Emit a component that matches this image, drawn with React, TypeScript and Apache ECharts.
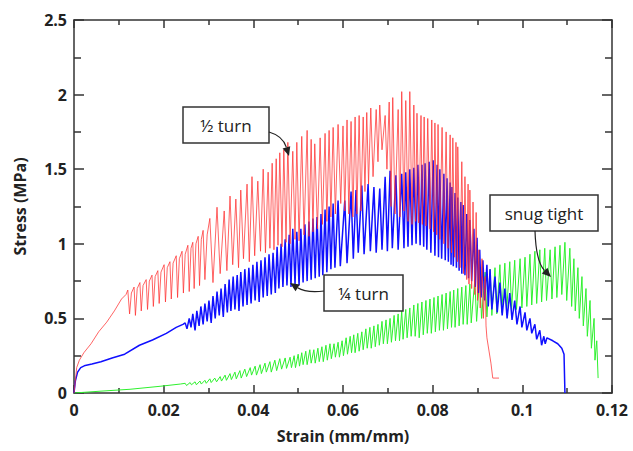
import React, { useEffect, useRef } from "react";
import * as echarts from "echarts";

// Strain (mm/mm), Stress (MPa)
const halfTurn: [number, number][] = [
  [0, 0], [0.0003, 0.08], [0.0006, 0.17], [0.0012, 0.22], [0.0022, 0.27], [0.0038, 0.33], [0.0055, 0.41], [0.0073, 0.475], [0.009, 0.55], [0.0106, 0.63], [0.0116, 0.66],
  [0.0120, 0.69], [0.0124, 0.53], [0.0128, 0.67], [0.0134, 0.71], [0.0137, 0.52], [0.0141, 0.70], [0.0147, 0.74], [0.0150, 0.55], [0.0154, 0.72],
  [0.0161, 0.76], [0.0164, 0.56], [0.0168, 0.75], [0.0174, 0.79], [0.0177, 0.58], [0.0181, 0.78], [0.0187, 0.82], [0.0190, 0.60], [0.0194, 0.81],
  [0.0201, 0.86], [0.0204, 0.61], [0.0208, 0.84], [0.0214, 0.88], [0.0217, 0.63], [0.0221, 0.87], [0.0228, 0.92], [0.0231, 0.64], [0.0235, 0.90],
  [0.0241, 0.95], [0.0244, 0.67], [0.0248, 0.93], [0.0254, 0.99], [0.0257, 0.68], [0.0261, 0.97], [0.0265, 1.01], [0.0268, 0.70], [0.0272, 1.00],
  [0.0277, 1.05], [0.0280, 0.72], [0.0284, 1.03], [0.0288, 1.09], [0.0292, 0.76], [0.0297, 1.06],
  [0.0303, 1.17], [0.0310, 0.74], [0.0319, 1.245], [0.0326, 0.80],
  [0.0335, 1.22], [0.0341, 0.82], [0.0348, 1.32], [0.0354, 0.86], [0.0361, 1.30], [0.0367, 0.84], [0.0372, 1.36], [0.0378, 0.90],
  [0.0386, 1.40], [0.0391, 0.88], [0.0397, 1.45], [0.0403, 0.92], [0.0410, 1.42], [0.0416, 0.95], [0.0422, 1.50], [0.0427, 0.94],
  [0.0433, 1.48], [0.0437, 0.97], [0.0442, 1.54], [0.0446, 0.96], [0.0451, 1.57], [0.0455, 0.99], [0.0459, 1.61], [0.0464, 0.98],
  [0.0468, 1.63], [0.0473, 1.01], [0.0477, 1.68], [0.0482, 1.00], [0.0488, 1.62], [0.0493, 1.03], [0.0497, 1.68], [0.0502, 1.02],
  [0.0508, 1.72], [0.0513, 1.06], [0.0520, 1.76], [0.0524, 1.05], [0.0529, 1.70], [0.0533, 1.08], [0.0537, 1.67], [0.0543, 1.10],
  [0.0549, 1.71], [0.0554, 1.13], [0.0560, 1.74], [0.0564, 1.15], [0.0569, 1.76], [0.0573, 1.18], [0.0578, 1.78], [0.0583, 1.20],
  [0.0589, 1.80], [0.0595, 1.27], [0.0600, 1.79], [0.0604, 1.22], [0.0609, 1.83], [0.0613, 1.20], [0.0618, 1.82], [0.0622, 1.18],
  [0.0627, 1.85], [0.0631, 1.20], [0.0636, 1.86], [0.0640, 1.22], [0.0645, 1.85], [0.0649, 1.35], [0.0653, 1.88], [0.0657, 1.40],
  [0.0662, 1.91], [0.0667, 1.45], [0.0674, 1.90], [0.0678, 1.55], [0.0682, 1.93], [0.0687, 1.63], [0.0694, 1.86], [0.0698, 1.50],
  [0.0703, 1.95], [0.0707, 1.25], [0.0711, 1.98], [0.0716, 1.20], [0.0723, 1.90], [0.0727, 1.18], [0.0731, 2.02], [0.0736, 1.22],
  [0.0740, 1.96], [0.0745, 1.15], [0.0749, 2.02], [0.0754, 1.13], [0.0758, 1.93], [0.0762, 1.15], [0.0765, 1.875], [0.0769, 1.14],
  [0.0774, 1.86], [0.0777, 1.13], [0.0781, 1.85], [0.0785, 1.12], [0.0789, 1.84], [0.0794, 1.10], [0.0798, 1.83], [0.0802, 1.08],
  [0.0805, 1.81], [0.0809, 1.06], [0.0812, 1.80], [0.0816, 1.03], [0.0821, 1.78], [0.0825, 1.00], [0.0830, 1.75], [0.0834, 0.97],
  [0.0839, 1.73], [0.0842, 0.94], [0.0845, 1.71], [0.0849, 0.91], [0.0852, 1.68], [0.0855, 0.88], [0.0856, 1.65], [0.0861, 0.84],
  [0.0865, 1.55], [0.0869, 0.80], [0.0872, 1.45], [0.0876, 0.76], [0.0879, 1.40], [0.0881, 0.73], [0.0883, 1.36], [0.0887, 0.70],
  [0.0890, 1.28], [0.0894, 0.66], [0.0897, 1.21], [0.0900, 0.62], [0.0903, 0.96], [0.0906, 0.57], [0.0910, 0.90], [0.0913, 0.50],
  [0.0917, 0.78], [0.0919, 0.45], [0.0921, 0.37], [0.0930, 0.20], [0.0934, 0.10], [0.0948, 0.10],
];

const quarterTurn: [number, number][] = [
  [0, 0], [0.0003, 0.08], [0.0008, 0.14], [0.0015, 0.17], [0.0025, 0.185], [0.004, 0.195], [0.006, 0.21], [0.0085, 0.235], [0.0113, 0.26],
  [0.0146, 0.32], [0.0175, 0.355], [0.0206, 0.40], [0.0228, 0.44], [0.0243, 0.46],
  [0.0248, 0.47], [0.0252, 0.43], [0.0257, 0.50], [0.0261, 0.44], [0.0265, 0.53], [0.0270, 0.42], [0.0274, 0.55], [0.0279, 0.45],
  [0.0283, 0.58], [0.0288, 0.46], [0.0292, 0.60], [0.0297, 0.48], [0.0301, 0.62], [0.0306, 0.47], [0.0310, 0.65], [0.0315, 0.50],
  [0.0319, 0.68], [0.0324, 0.52], [0.0328, 0.70], [0.0333, 0.51], [0.0337, 0.73], [0.0342, 0.54], [0.0346, 0.76], [0.0350, 0.55],
  [0.0355, 0.78], [0.0359, 0.56], [0.0364, 0.79], [0.0368, 0.55], [0.0372, 0.81], [0.0377, 0.58], [0.0381, 0.83], [0.0386, 0.59],
  [0.0390, 0.84], [0.0395, 0.60], [0.0399, 0.86], [0.0404, 0.62], [0.0408, 0.88], [0.0413, 0.61], [0.0417, 0.89], [0.0422, 0.64],
  [0.0426, 0.91], [0.0431, 0.65], [0.0435, 0.93], [0.0440, 0.66], [0.0444, 0.94], [0.0449, 0.67], [0.0453, 0.98], [0.0457, 0.70],
  [0.0462, 1.00], [0.0466, 0.71], [0.0471, 1.03], [0.0475, 0.72], [0.0480, 1.06], [0.0484, 0.71], [0.0488, 1.10], [0.0493, 0.73],
  [0.0497, 1.08], [0.0502, 0.72], [0.0506, 1.10], [0.0511, 0.74], [0.0515, 1.13], [0.0520, 0.75], [0.0524, 1.15], [0.0529, 0.76],
  [0.0533, 1.17], [0.0538, 0.77], [0.0542, 1.18], [0.0547, 0.78], [0.0551, 1.20], [0.0555, 0.79], [0.0560, 1.23], [0.0564, 0.81],
  [0.0569, 1.25], [0.0573, 0.83], [0.0578, 1.27], [0.0582, 0.84], [0.0589, 1.29], [0.0594, 0.85], [0.0604, 1.29], [0.0609, 0.87],
  [0.0618, 1.35], [0.0623, 0.90], [0.0629, 1.36], [0.0634, 0.94], [0.0642, 1.39], [0.0647, 0.93], [0.0656, 1.40], [0.0661, 0.95],
  [0.0669, 1.38], [0.0674, 0.94], [0.0682, 1.37], [0.0687, 0.96], [0.0694, 1.45], [0.0699, 0.95], [0.0705, 1.49], [0.0710, 0.97],
  [0.0718, 1.46], [0.0723, 0.96], [0.0731, 1.47], [0.0736, 0.97], [0.0740, 1.48], [0.0745, 0.98], [0.0749, 1.50], [0.0754, 0.99],
  [0.0758, 1.51], [0.0763, 1.00], [0.0767, 1.53], [0.0772, 0.99], [0.0776, 1.53], [0.0780, 0.98], [0.0783, 1.54], [0.0787, 0.96],
  [0.0792, 1.55], [0.0796, 0.94], [0.0801, 1.56], [0.0805, 0.92], [0.0810, 1.53], [0.0813, 0.91], [0.0816, 1.50], [0.0820, 0.90],
  [0.0825, 1.47], [0.0828, 0.89], [0.0832, 1.44], [0.0835, 0.88], [0.0839, 1.41], [0.0841, 0.86], [0.0843, 1.38], [0.0846, 0.85],
  [0.0850, 1.34], [0.0853, 0.84], [0.0856, 1.31], [0.0859, 0.82], [0.0863, 1.28], [0.0865, 0.80], [0.0868, 1.26], [0.0872, 0.79],
  [0.0876, 1.20], [0.0880, 0.77], [0.0883, 1.16], [0.0887, 0.75], [0.0892, 1.10], [0.0895, 0.71], [0.0899, 1.04], [0.0902, 0.67],
  [0.0905, 0.96], [0.0908, 0.64], [0.0912, 0.89], [0.0916, 0.62], [0.0921, 0.86], [0.0924, 0.58], [0.0928, 0.83], [0.0932, 0.56],
  [0.0939, 0.78], [0.0944, 0.54], [0.0950, 0.74], [0.0955, 0.52], [0.0961, 0.70], [0.0966, 0.50], [0.0972, 0.67], [0.0977, 0.49],
  [0.0983, 0.62], [0.0988, 0.46], [0.0995, 0.58], [0.0999, 0.44], [0.1006, 0.54], [0.1010, 0.42], [0.1017, 0.50], [0.1021, 0.40],
  [0.1028, 0.46], [0.1032, 0.36], [0.1039, 0.42], [0.1043, 0.32], [0.1048, 0.38], [0.1051, 0.33],
  [0.1055, 0.37], [0.1068, 0.35], [0.1079, 0.33], [0.1088, 0.30], [0.1093, 0.26], [0.1095, 0.0],
];

const snugTight: [number, number][] = [
  [0, 0], [0.0058, 0.012], [0.0125, 0.025], [0.0192, 0.045], [0.0237, 0.06],
  [0.0248, 0.065], [0.0251, 0.05], [0.0259, 0.07], [0.0262, 0.055], [0.0270, 0.075], [0.0273, 0.055], [0.0281, 0.08], [0.0284, 0.06],
  [0.0292, 0.085], [0.0295, 0.065], [0.0303, 0.095], [0.0306, 0.07], [0.0314, 0.10], [0.0318, 0.075], [0.0326, 0.11], [0.0329, 0.08],
  [0.0337, 0.12], [0.0340, 0.085], [0.0348, 0.13], [0.0351, 0.09], [0.0359, 0.14], [0.0362, 0.095], [0.0370, 0.15], [0.0373, 0.10],
  [0.0381, 0.16], [0.0385, 0.11], [0.0393, 0.17], [0.0396, 0.12], [0.0404, 0.18], [0.0407, 0.12], [0.0415, 0.19], [0.0418, 0.13],
  [0.0426, 0.20], [0.0429, 0.14], [0.0437, 0.21], [0.0440, 0.14], [0.0448, 0.22], [0.0452, 0.15], [0.0459, 0.23], [0.0463, 0.16],
  [0.0471, 0.235], [0.0474, 0.165], [0.0482, 0.24], [0.0485, 0.17], [0.0491, 0.25], [0.0494, 0.17], [0.0500, 0.26], [0.0503, 0.18],
  [0.0508, 0.27], [0.0511, 0.19], [0.0517, 0.28], [0.0520, 0.19], [0.0526, 0.29], [0.0529, 0.20], [0.0535, 0.29], [0.0538, 0.20],
  [0.0544, 0.30], [0.0547, 0.21], [0.0553, 0.31], [0.0556, 0.21], [0.0562, 0.32], [0.0565, 0.22], [0.0571, 0.33], [0.0574, 0.23],
  [0.0580, 0.33], [0.0583, 0.24], [0.0589, 0.34], [0.0592, 0.24], [0.0598, 0.35], [0.0601, 0.25], [0.0607, 0.37], [0.0610, 0.26],
  [0.0616, 0.38], [0.0619, 0.27], [0.0624, 0.39], [0.0627, 0.27], [0.0633, 0.40], [0.0636, 0.28], [0.0642, 0.41], [0.0645, 0.29],
  [0.0651, 0.43], [0.0654, 0.30], [0.0660, 0.44], [0.0663, 0.30], [0.0669, 0.45], [0.0672, 0.31], [0.0678, 0.46], [0.0681, 0.32],
  [0.0687, 0.48], [0.0690, 0.33], [0.0696, 0.49], [0.0699, 0.33], [0.0705, 0.50], [0.0708, 0.34], [0.0714, 0.52], [0.0717, 0.35],
  [0.0723, 0.53], [0.0726, 0.35], [0.0731, 0.55], [0.0734, 0.36], [0.0740, 0.56], [0.0743, 0.37], [0.0749, 0.57], [0.0752, 0.38],
  [0.0758, 0.59], [0.0761, 0.38], [0.0767, 0.60], [0.0770, 0.37], [0.0776, 0.61], [0.0779, 0.39], [0.0785, 0.62], [0.0788, 0.40],
  [0.0794, 0.63], [0.0797, 0.40], [0.0803, 0.64], [0.0806, 0.41], [0.0812, 0.65], [0.0815, 0.42], [0.0821, 0.66], [0.0824, 0.42],
  [0.0830, 0.67], [0.0833, 0.43], [0.0839, 0.68], [0.0842, 0.44], [0.0847, 0.69], [0.0850, 0.44], [0.0856, 0.70], [0.0859, 0.45],
  [0.0865, 0.71], [0.0868, 0.46], [0.0874, 0.72], [0.0877, 0.46], [0.0883, 0.73], [0.0886, 0.47], [0.0894, 0.76], [0.0898, 0.48],
  [0.0905, 0.79], [0.0909, 0.50], [0.0917, 0.81], [0.0921, 0.51], [0.0928, 0.83], [0.0932, 0.52], [0.0939, 0.84], [0.0943, 0.53],
  [0.0950, 0.86], [0.0954, 0.54], [0.0961, 0.87], [0.0965, 0.55], [0.0972, 0.88], [0.0976, 0.56], [0.0983, 0.89], [0.0987, 0.56],
  [0.0995, 0.90], [0.0999, 0.57], [0.1006, 0.91], [0.1010, 0.58], [0.1017, 0.93], [0.1021, 0.59], [0.1028, 0.95], [0.1032, 0.60],
  [0.1039, 0.96], [0.1043, 0.61], [0.1050, 0.97], [0.1054, 0.62], [0.1062, 0.96], [0.1066, 0.63], [0.1073, 0.98], [0.1077, 0.64],
  [0.1084, 0.99], [0.1088, 0.66], [0.1095, 1.01], [0.1099, 0.62], [0.1106, 0.97], [0.1110, 0.58], [0.1115, 0.90], [0.1118, 0.55],
  [0.1124, 0.84], [0.1127, 0.50], [0.1133, 0.78], [0.1136, 0.45], [0.1142, 0.70], [0.1145, 0.38], [0.1151, 0.62], [0.1154, 0.30],
  [0.1160, 0.50], [0.1162, 0.22], [0.1166, 0.35], [0.1169, 0.10],
];

const xTickValues = [0, 0.02, 0.04, 0.06, 0.08, 0.1, 0.12];
const yTickValues = [0, 0.5, 1, 1.5, 2, 2.5];
const xName = "Strain (mm/mm)";
const yName = "Stress (MPa)";
const annotations = ["½ turn", "¼ turn", "snug tight"];

const FONT = "Open Sans";
const AXIS_COLOR = "#333";

function fmt(v: number) {
  return String(Math.round(v * 1000) / 1000);
}

function arrow(x1: number, y1: number, cx: number, cy: number, x2: number, y2: number) {
  const ang = Math.atan2(y2 - cy, x2 - cx);
  const L = 9, W = 4;
  const bx = x2 - L * Math.cos(ang), by = y2 - L * Math.sin(ang);
  const px = -Math.sin(ang) * W, py = Math.cos(ang) * W;
  return [
    {
      type: "bezierCurve",
      shape: { x1, y1, cpx1: cx, cpy1: cy, x2: bx, y2: by },
      style: { stroke: "#222", lineWidth: 1.2, fill: null },
      z: 100,
    },
    {
      type: "polygon",
      shape: { points: [[x2, y2], [bx + px, by + py], [bx - px, by - py]] },
      style: { fill: "#222" },
      z: 100,
    },
  ];
}

function box(x: number, y: number, w: number, h: number, text: string) {
  return [
    {
      type: "rect",
      shape: { x, y, width: w, height: h },
      style: { fill: "#fff", stroke: "#333", lineWidth: 1.5 },
      z: 100,
    },
    {
      type: "text",
      x: x + w / 2,
      y: y + h / 2,
      style: { text, fill: "#222", font: `17px '${FONT}'`, align: "center", verticalAlign: "middle" },
      z: 101,
    },
  ];
}

export default function App() {
  const ref = useRef<HTMLDivElement>(null);
  useEffect(() => {
    document.body.style.margin = "0";
    const chart = echarts.init(ref.current!, null, { renderer: "svg" });
    const xCommon = {
      type: "value",
      min: xTickValues[0],
      max: xTickValues[xTickValues.length - 1],
      interval: 0.02,
      axisLine: { show: true, onZero: false, lineStyle: { color: AXIS_COLOR, width: 1.5 } },
      axisTick: { show: true, inside: true, length: 8, lineStyle: { color: AXIS_COLOR, width: 1.5 } },
      minorTick: { show: true, splitNumber: 2, length: 5, lineStyle: { color: AXIS_COLOR, width: 1.5 } },
      splitLine: { show: false },
    };
    const yCommon = {
      type: "value",
      min: yTickValues[0],
      max: yTickValues[yTickValues.length - 1],
      interval: 0.5,
      axisLine: { show: true, onZero: false, lineStyle: { color: AXIS_COLOR, width: 1.5 } },
      axisTick: { show: true, inside: true, length: 10, lineStyle: { color: AXIS_COLOR, width: 1.5 } },
      minorTick: { show: true, splitNumber: 2, length: 7, lineStyle: { color: AXIS_COLOR, width: 1.5 } },
      splitLine: { show: false },
    };
    chart.setOption({
      animation: false,
      backgroundColor: "#fff",
      grid: { left: 74, right: 21, top: 20, bottom: 58 },
      xAxis: [
        {
          ...xCommon,
          position: "bottom",
          name: xName,
          nameLocation: "middle",
          nameGap: 35,
          nameTextStyle: { fontFamily: FONT, fontWeight: "bold", fontSize: 16, color: "#222" },
          axisLabel: { show: true, margin: 9, fontFamily: FONT, fontWeight: "bold", fontSize: 16, color: "#222", formatter: fmt },
        },
        { ...xCommon, position: "top", axisLabel: { show: false } },
      ],
      yAxis: [
        {
          ...yCommon,
          position: "left",
          name: yName,
          nameLocation: "middle",
          nameGap: 46,
          nameTextStyle: { fontFamily: FONT, fontWeight: "bold", fontSize: 16, color: "#222" },
          axisLabel: { show: true, margin: 7, fontFamily: FONT, fontWeight: "bold", fontSize: 16, color: "#222", formatter: fmt },
        },
        { ...yCommon, position: "right", axisLabel: { show: false } },
      ],
      series: [
        {
          name: "snug tight",
          type: "line",
          data: snugTight,
          showSymbol: false,
          lineStyle: { color: "#2ef02e", width: 1 },
          z: 2,
        },
        {
          name: "¼ turn",
          type: "line",
          data: quarterTurn,
          showSymbol: false,
          lineStyle: { color: "#1010ff", width: 1.5 },
          z: 3,
        },
        {
          name: "½ turn",
          type: "line",
          data: halfTurn,
          showSymbol: false,
          lineStyle: { color: "#ff3030", width: 1, opacity: 0.75 },
          z: 4,
        },
      ],
      graphic: [
        ...box(183, 107, 86, 36, annotations[0]),
        ...arrow(269, 132, 283, 136, 289, 156),
        ...box(324, 275, 79, 36, annotations[1]),
        ...arrow(324, 291, 306, 293, 290, 283),
        ...box(490, 195, 108, 36, annotations[2]),
        ...arrow(535, 231, 536, 262, 551, 277),
      ],
    });
    return () => chart.dispose();
  }, []);
  return <div ref={ref} style={{ width: 633, height: 451 }} />;
}
